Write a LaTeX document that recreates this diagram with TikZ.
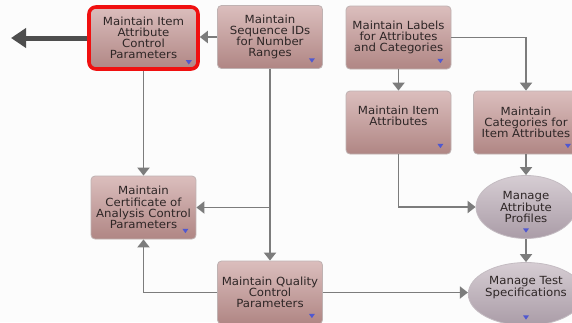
\documentclass[tikz,border=0pt]{standalone}
\usepackage{fontspec}
\newfontfamily\lblfont[FakeStretch=1.05]{DejaVu Sans}
\usetikzlibrary{arrows.meta,shapes.geometric,calc}
\definecolor{pagebg}{HTML}{FCFCFC}
\definecolor{boxtop}{HTML}{DBBEBD}
\definecolor{boxbot}{HTML}{B08684}
\definecolor{boxedge}{HTML}{BFB2B2}
\definecolor{elltop}{HTML}{D6CDD3}
\definecolor{ellbot}{HTML}{AA9CA7}
\definecolor{elledge}{HTML}{C4BCC2}
\definecolor{wire}{HTML}{7C7C7C}
\definecolor{bigarrow}{HTML}{4E4E4E}
\definecolor{txt}{HTML}{2E2626}
\definecolor{marker}{HTML}{5058D0}
\definecolor{hilite}{HTML}{F01010}
\tikzset{
  x=1pt, y=-1pt,
  label text/.style={font=\lblfont\fontsize{11.2}{11.2}\selectfont, text=txt, align=center},
  taskbox/.style={label text, rectangle, rounded corners=4pt, draw=boxedge, line width=0.8pt,
    top color=boxtop, bottom color=boxbot, minimum width=105pt, minimum height=63pt,
    inner sep=1pt},
  taskoval/.style={label text, ellipse, draw=elledge, line width=0.8pt,
    top color=elltop, bottom color=ellbot, minimum width=100pt, minimum height=63pt,
    inner sep=0pt},
  picked/.style={draw=hilite, line width=3.6pt, rounded corners=7pt,
    minimum width=109pt, minimum height=62pt},
  flow/.style={draw=wire, line width=1.9pt,
    -{Triangle[width=12pt,length=8pt]}},
  exitflow/.style={draw=bigarrow, line width=5pt,
    -{Triangle[width=19pt,length=15pt]}},
  dropmark/.style={fill=marker, draw=none, isosceles triangle, shape border rotate=-90,
    isosceles triangle apex angle=70, minimum size=0pt, inner sep=0pt,
    minimum width=6pt, minimum height=4pt},
}
\begin{document}
\begin{tikzpicture}
  \fill[pagebg] (0,0) rectangle (572,322);
  \useasboundingbox (0,0) rectangle (572,322);

  % task boxes
  \node[taskbox, picked] (itemctl) at (143.5,38) {Maintain Item\\Attribute\\Control\\Parameters};
  \node[taskbox] (seqids) at (270,37) {Maintain\\Sequence IDs\\for Number\\Ranges};
  \node[taskbox] (labels) at (398.5,37.5) {Maintain Labels\\for Attributes\\and Categories};
  \node[taskbox] (itemattr) at (398.5,122.5) {Maintain Item\\Attributes\\[2pt]};
  \node[taskbox] (categ) at (526,122.5) {Maintain\\Categories for\\Item Attributes};
  \node[taskbox] (coa) at (143.5,207.5) {Maintain\\Certificate of\\Analysis Control\\Parameters};
  \node[taskbox] (quality) at (270,292.5) {Maintain Quality\\Control\\Parameters};

  % ellipses
  \node[taskoval] (profiles) at (526,207) {Manage\\Attribute\\Profiles};
  \node[taskoval] (testspec) at (526,294) {Manage Test\\Specifications\\[4pt]};

  % drop-down markers
  \foreach \b in {itemctl,seqids,labels,itemattr,categ,coa,quality}
    \node[dropmark] (\b-menu) at ($(\b.south east)+(-11,-9)$) {};
  \foreach \e in {profiles,testspec}
    \node[dropmark] (\e-menu) at ($(\e.south)+(0,-9)$) {};

  % outgoing link
  \coordinate (exit) at (11,38);
  \draw[exitflow] (itemctl.west) -- (exit);

  % connectors
  \draw[flow] (seqids.west) -- (seqids.west -| itemctl.east);
  \draw[flow] (itemctl.south) -- (coa.north);
  \draw[flow] (seqids.south) -- (seqids.south |- quality.north);
  \coordinate (tap) at (270,207.5);
  \draw[flow] (tap) -- (coa.east);
  \draw[flow] (quality.west) -| (coa.south);
  \draw[flow] (quality.east) -- (quality.east -| testspec.west);
  \draw[flow] (labels.south) -- (itemattr.north);
  \draw[flow] (labels.east) -| (categ.north);
  \draw[flow] (itemattr.south) |- (profiles.west);
  \draw[flow] (categ.south) -- (profiles.north);
  \draw[flow] (profiles.south) -- (testspec.north);
\end{tikzpicture}
\end{document}
